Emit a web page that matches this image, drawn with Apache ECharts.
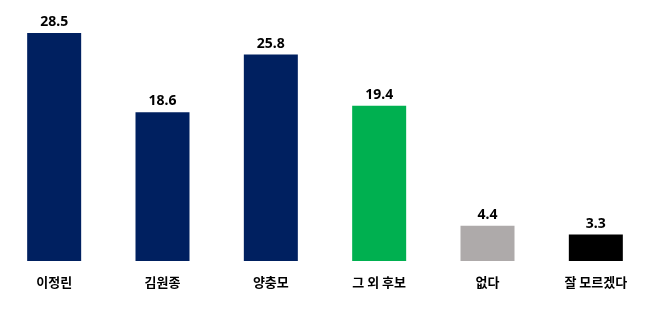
<!DOCTYPE html>
<html><head><meta charset="utf-8">
<script src="https://cdn.jsdelivr.net/npm/echarts@6/dist/echarts.min.js"></script>
<style>html,body{margin:0;padding:0;background:#fff}#c{width:650px;height:313px}</style>
</head><body><div id="c"></div>
<script>
const categories = ['이정린', '김원종', '양충모', '그 외 후보', '없다', '잘 모르겠다'];
const values = [28.5, 18.6, 25.8, 19.4, 4.4, 3.3];
const colors = ['#002060', '#002060', '#002060', '#00b050', '#aeaaaa', '#000000'];

const chart = echarts.init(document.getElementById('c'), null, {renderer: 'canvas'});
chart.setOption({
  animation: false,
  grid: {left: -2, right: -4, top: 21, bottom: 52},
  xAxis: {
    type: 'category', data: categories,
    axisLine: {show: false}, axisTick: {show: false},
    axisLabel: {margin: 15, fontSize: 13, fontWeight: 'bold', color: '#000',
      fontFamily: '"Noto Sans CJK KR", sans-serif'}
  },
  yAxis: {type: 'value', min: 0, max: 30, show: false, splitLine: {show: false}},
  series: [{
    type: 'bar', barWidth: 54,
    data: values.map((v, i) => ({value: v, itemStyle: {color: colors[i]}})),
    label: {show: true, position: 'top', distance: 4, fontSize: 14, fontWeight: 'bold',
      color: '#000', fontFamily: '"Noto Sans", sans-serif',
      formatter: p => p.value.toFixed(1)}
  }]
});
</script></body></html>
